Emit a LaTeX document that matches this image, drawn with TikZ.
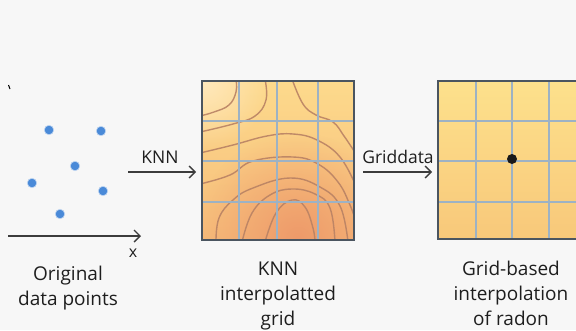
\documentclass[tikz,border=0pt]{standalone}
\usepackage{fontspec}
\setmainfont{Open Sans}
\usetikzlibrary{arrows.meta,fadings}
\tikzfading[name=softblob, inner color=transparent!0, outer color=transparent!100]
\definecolor{bg}{HTML}{F7F7F7}
\definecolor{dotblue}{HTML}{4A8AD8}
\definecolor{boxc}{HTML}{4B5560}
\definecolor{gridc}{HTML}{9DB2C4}
\definecolor{contc}{HTML}{B98264}
\definecolor{midtop}{HTML}{FDDA8C}
\definecolor{midbot}{HTML}{F6BC7A}
\definecolor{hot}{HTML}{EE9A6A}
\definecolor{cream}{HTML}{FFE8BC}
\definecolor{rtop}{HTML}{FDE18C}
\definecolor{rbot}{HTML}{F8C87A}
\definecolor{arrc}{HTML}{3C3C3C}
\definecolor{txtc}{HTML}{1E1E1E}
\begin{document}
\begin{tikzpicture}[x=1pt,y=-1pt,
  dot/.style={circle, fill=dotblue, draw=dotblue!35!white, line width=0.6pt, minimum size=9.5pt, inner sep=0pt},
  bdot/.style={circle, fill=black!90, minimum size=10pt, inner sep=0pt},
  gridbox/.style={draw=boxc, line width=1.8pt, inner sep=0pt},
  gridln/.style={draw=gridc, line width=1.3pt},
  contour/.style={draw=contc, line width=1.4pt, opacity=0.9},
  arr/.style={draw=arrc, line width=1.4pt, -{Straight Barb[length=6pt,width=12pt,line width=1.4pt]}},
  lbl/.style={text=txtc, font=\fontsize{19}{25}\selectfont, align=center, inner sep=0pt},
  albl/.style={text=txtc, font=\fontsize{17.5}{20}\selectfont, inner sep=0pt, anchor=base}
]
\useasboundingbox (0,0) rectangle (576,330);
\fill[bg] (0,0) rectangle (576,330);

% small mark at top left
\draw[black, line width=1pt] (8.5,85) -- (10,89);

% data points
\node[dot] (p1) at (49,130) {};
\node[dot] (p2) at (101,131) {};
\node[dot] (p3) at (75,166) {};
\node[dot] (p4) at (32,183) {};
\node[dot] (p5) at (103,191) {};
\node[dot] (p6) at (60,214) {};

% x axis
\coordinate (xS) at (8,236);
\coordinate (xE) at (141,236);
\draw[arr] (xS) -- (xE);
\node[albl, font=\fontsize{16}{18}\selectfont] (xl) at (133,257) {x};

\node[lbl, anchor=north] (lblA) at (68,265.5) {Original\\data points};

% middle box (KNN grid)
\begin{scope}
  \clip (202,81) rectangle (354,240);
  \shade[top color=midtop, bottom color=midbot] (202,81) rectangle (354,240);
  \fill[hot, path fading=softblob] (298,238) circle (105);
  \fill[cream, path fading=softblob] (204,82) circle (66);
  \draw[contour] plot[smooth, tension=0.7] coordinates {(236,79) (236,92) (229,105) (214,112) (200,116)};
  \draw[contour] plot[smooth, tension=0.7] coordinates {(265,79) (266,100) (255,116) (233,124) (200,132)};
  \draw[contour] plot[smooth, tension=0.7] coordinates {(292,79) (303,104) (316,115) (333,122) (344,136) (356,154)};
  \draw[contour] plot[smooth, tension=0.7] coordinates {(200,153) (233,145) (267,136) (293,134) (317,140) (340,157) (356,186)};
  \draw[contour] plot[smooth, tension=0.7] coordinates {(200,184) (230,175) (253,161) (293,157) (318,164) (338,182) (350,205) (356,222)};
  \draw[contour] plot[smooth, tension=0.7] coordinates {(216,242) (219,218) (233,200) (253,188) (290,178) (320,187) (340,206) (348,242)};
  \draw[contour] plot[smooth, tension=0.7] coordinates {(242,242) (252,213) (270,195) (292,189) (315,194) (330,208) (335,242)};
  \draw[contour] plot[smooth, tension=0.7] coordinates {(265,242) (276,213) (292,200) (305,207) (313,228) (315,242)};
  \draw[gridln] (239,81) -- (239,240) (277,81) -- (277,240) (318,81) -- (318,240);
  \draw[gridln] (202,121) -- (354,121) (202,161) -- (354,161) (202,202) -- (354,202);
\end{scope}
\node[gridbox, minimum width=152pt, minimum height=159pt] (mid) at (278,160.5) {};

% right box (grid-based)
\begin{scope}
  \clip (438,81) rectangle (586,239);
  \shade[top color=rtop, bottom color=rbot] (438,81) rectangle (586,239);
  \draw[gridln] (476,81) -- (476,239) (512,81) -- (512,239) (549,81) -- (549,239);
  \draw[gridln] (438,121) -- (586,121) (438,161) -- (586,161) (438,202) -- (586,202);
\end{scope}
\node[gridbox, minimum width=148pt, minimum height=158pt] (rgt) at (512,160) {};
\node[bdot] (pt) at (512,159) {};

% arrows
\coordinate (knnS) at (128,172);
\draw[arr, shorten >=5pt] (knnS) -- (knnS -| mid.west);
\node[albl] (knnl) at (160,163) {KNN};
\coordinate (gdS) at (363,172);
\draw[arr, shorten >=5pt] (gdS) -- (gdS -| rgt.west);
\node[albl] (gdl) at (398,163) {Griddata};

% labels
\node[lbl, anchor=north] (lblB) at (278,261.5) {KNN\\interpolatted\\grid};
\node[lbl, anchor=north] (lblC) at (511,260.5) {Grid-based\\interpolation\\of radon};
\end{tikzpicture}
\end{document}
